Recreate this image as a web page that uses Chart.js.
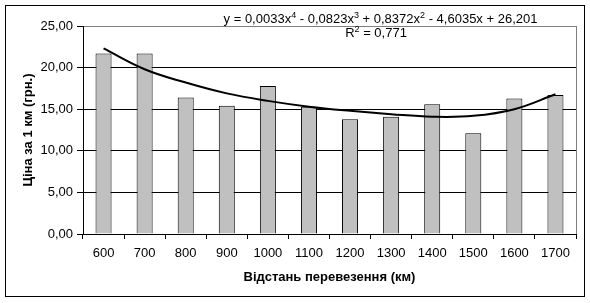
<!DOCTYPE html>
<html>
<head>
<meta charset="utf-8">
<script src="https://cdn.jsdelivr.net/npm/chart.js@4/dist/chart.umd.min.js"></script>
<style>
  body { margin: 0; background: #fff; }
  #wrap { position: relative; width: 590px; height: 303px; }
</style>
</head>
<body>
<div id="wrap"><canvas id="mycanvas"></canvas></div>
<script>
var distances = ['600', '700', '800', '900', '1000', '1100', '1200', '1300', '1400', '1500', '1600', '1700'];
var prices = [21.7, 21.7, 16.4, 15.4, 17.8, 15.3, 13.8, 14.1, 15.6, 12.1, 16.3, 16.7];
// trend line at each category
var trend = [22.3, 19.8, 18.2, 16.9, 16.0, 15.3, 14.8, 14.4, 14.1, 14.2, 15.0, 16.8];
var yTicks = [0, 5, 10, 15, 20, 25];

var FONT = '"Liberation Sans", Arial, sans-serif';

// draws the frame, titles and the trend equation
var decor = {
  id: 'decor',
  afterDraw: function(chart) {
    var c = chart.ctx;
    var a = chart.chartArea;
    c.save();
    c.strokeStyle = '#000';
    c.lineWidth = 1;
    c.strokeRect(5.5, 5.5, 579, 291);

    c.strokeStyle = '#808080';
    c.beginPath();
    c.moveTo(Math.round(a.right) + 0.5, a.top);
    c.lineTo(Math.round(a.right) + 0.5, a.bottom);
    c.stroke();

    c.fillStyle = '#000';
    c.font = 'bold 13px ' + FONT;
    c.textAlign = 'center';
    c.textBaseline = 'alphabetic';
    c.fillText('Відстань перевезення (км)', (a.left + a.right) / 2, 281);

    c.save();
    c.translate(32, (a.top + a.bottom) / 2);
    c.rotate(-Math.PI / 2);
    c.fillText('Ціна за 1 км (грн.)', 0, 0);
    c.restore();

    // equation with superscripts
    var parts = [
      ['y = 0,0033x', 0], ['4', 1], [' - 0,0823x', 0], ['3', 1],
      [' + 0,8372x', 0], ['2', 1], [' - 4,6035x + 26,201', 0]
    ];
    var big = '13px ' + FONT, small = '9px ' + FONT;
    var total = 0;
    parts.forEach(function(p) {
      c.font = p[1] ? small : big;
      total += c.measureText(p[0]).width;
    });
    var x = 380.5 - total / 2;
    c.textAlign = 'left';
    parts.forEach(function(p) {
      c.font = p[1] ? small : big;
      c.fillText(p[0], x, p[1] ? 18 : 23);
      x += c.measureText(p[0]).width;
    });

    var r = [['R', 0], ['2', 1], [' = 0,771', 0]];
    total = 0;
    r.forEach(function(p) {
      c.font = p[1] ? small : big;
      total += c.measureText(p[0]).width;
    });
    x = 376 - total / 2;
    r.forEach(function(p) {
      c.font = p[1] ? small : big;
      c.fillText(p[0], x, p[1] ? 32 : 37);
      x += c.measureText(p[0]).width;
    });
    c.restore();
  }
};

var ctx = document.getElementById('mycanvas');

var graph = new Chart(ctx, {
  type: 'bar',
  data: {
    labels: distances,
    datasets: [
      {
        type: 'line',
        label: 'trend',
        data: trend,
        borderColor: '#000',
        borderWidth: 2,
        pointRadius: 0,
        fill: false,
        tension: 0.4,
        order: 0
      },
      {
        label: 'price',
        data: prices,
        backgroundColor: '#c0c0c0',
        borderColor: '#000',
        borderWidth: 1,
        barPercentage: 0.39,
        categoryPercentage: 1,
        order: 1
      }
    ]
  },
  options: {
    responsive: true,
    maintainAspectRatio: false,
    animation: false,
    layout: { padding: { left: 0, right: 14, top: 26, bottom: 0 } },
    plugins: {
      legend: { display: false },
      tooltip: { enabled: false }
    },
    scales: {
      x: {
        grid: {
          offset: true,
          drawOnChartArea: false,
          drawTicks: true,
          tickLength: 5,
          tickColor: '#000'
        },
        border: { color: '#000', width: 1 },
        ticks: {
          color: '#000',
          font: { family: FONT, size: 13 },
          padding: 7,
          maxRotation: 0,
          autoSkip: false
        },
        afterFit: function(scale) { scale.height = 69; }
      },
      y: {
        min: 0,
        max: 25,
        afterBuildTicks: function(scale) {
          scale.ticks = yTicks.map(function(v) { return { value: v }; });
        },
        grid: {
          color: function(c) { return c.tick && c.tick.value === 25 ? '#808080' : '#000'; },
          tickColor: '#000',
          tickLength: 6
        },
        border: { color: '#000', width: 1 },
        ticks: {
          color: '#000',
          font: { family: FONT, size: 13 },
          padding: 4,
          callback: function(v) { return v.toFixed(2).replace('.', ','); }
        },
        afterFit: function(scale) { scale.width = 83; }
      }
    }
  },
  plugins: [decor]
});
</script>
</body>
</html>
